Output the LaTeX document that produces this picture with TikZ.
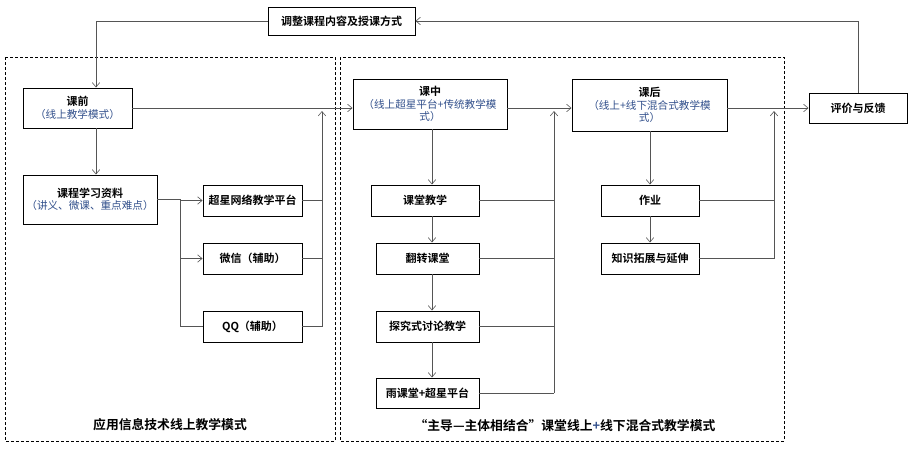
\documentclass[tikz,border=0pt]{standalone}
\usepackage{fontspec}
\setmainfont{Noto Sans CJK SC}[BoldFont={Noto Sans CJK SC Bold}]
\usetikzlibrary{arrows.meta,calc}
\definecolor{tblue}{RGB}{50,80,140}
\definecolor{lgray}{RGB}{85,85,85}
\tikzset{
  bx/.style={draw=black, line width=0.95pt, fill=white, inner sep=1pt, align=center,
    font=\fontsize{11}{12.5}\selectfont\bfseries},
  conn/.style={draw=lgray, line width=0.75pt},
  arr/.style={-{Straight Barb[length=4.5pt,width=7.5pt,line width=0.6pt]}},
  frame/.style={draw=black, line width=0.6pt, dash pattern=on 3pt off 2pt},
  ttl/.style={font=\fontsize{12.8}{14}\selectfont\bfseries, inner sep=1pt}
}
\newcommand{\subtxt}[1]{{\fontsize{10.6}{12.5}\selectfont\mdseries\color{tblue}#1}}
\begin{document}
\begin{tikzpicture}[x=1pt,y=-1pt]
\useasboundingbox (0,0) rectangle (911,451);

% frames
\draw[frame] (5,57) rectangle (335,441);
\draw[frame] (340,57) rectangle (784,441);

% nodes
\node[bx, minimum width=147pt, minimum height=28pt] (top) at (341.5,21) {调整课程内容及授课方式};
\node[bx, minimum width=109pt, minimum height=40pt] (qian) at (77.5,108) {课前\\\subtxt{（线上教学模式）}};
\node[bx, minimum width=154pt, minimum height=50pt] (zhong) at (430,104) {课中\\\subtxt{（线上超星平台+传统教学模}\\\subtxt{式）}};
\node[bx, minimum width=155pt, minimum height=52pt] (hou) at (649.5,105) {课后\\\subtxt{（线上+线下混合式教学模}\\\subtxt{式）}};
\node[bx, minimum width=98pt, minimum height=30pt] (ping) at (858,108) {评价与反馈};

\node[bx, minimum width=134pt, minimum height=49pt] (ziliao) at (90,199.5) {课程学习资料\\\subtxt{（讲义、微课、重点难点）}};
\node[bx, minimum width=99pt, minimum height=31pt] (chaoxing) at (252.5,200.5) {超星网络教学平台};
\node[bx, minimum width=99pt, minimum height=31pt] (weixin) at (252.5,258.5) {微信（辅助）};
\node[bx, minimum width=99pt, minimum height=31pt] (qq) at (252.5,326.5) {QQ（辅助）};

\node[bx, minimum width=108pt, minimum height=31pt] (ketang) at (425,200.5) {课堂教学};
\node[bx, minimum width=103pt, minimum height=31pt] (fanzhuan) at (427.5,258.5) {翻转课堂};
\node[bx, minimum width=103pt, minimum height=31pt] (tanjiu) at (427.5,326.5) {探究式讨论教学};
\node[bx, minimum width=103pt, minimum height=30pt] (yu) at (427.5,393) {雨课堂+超星平台};

\node[bx, minimum width=98pt, minimum height=31pt] (zuoye) at (650,200.5) {作业};
\node[bx, minimum width=98pt, minimum height=31pt] (zhishi) at (650,258.5) {知识拓展与延伸};

\node[ttl] (t1) at (170,425) {应用信息技术线上教学模式};
\node[ttl] (t2) at (565,426) {“主导—主体相结合”课堂线上{\color{tblue}+}线下混合式教学模式};

% helper coordinates
\coordinate (c96) at (96,0);
\coordinate (b1) at (180,0);
\coordinate (r1) at (322,0);
\coordinate (c432) at (432,0);
\coordinate (r2) at (554,0);
\coordinate (c650) at (650,0);
\coordinate (r3) at (774,0);

% feedback loop
\draw[conn,arr] (ping.north) |- (top.east);
\draw[conn,arr] (top.west) -| (qian.north -| c96);

% main flow
\draw[conn,arr] (qian.east) -- (qian.east -| zhong.west);
\draw[conn,arr] (zhong.east |- qian.east) -- (hou.west |- qian.east);
\draw[conn,arr] (hou.east |- ping.west) -- (ping.west);

% left column
\draw[conn,arr] (qian.south -| c96) -- (ziliao.north -| c96);
\draw[conn] (ziliao.east) -- (ziliao.east -| b1) |- (qq.west);
\draw[conn,arr] (chaoxing.west -| b1) -- (chaoxing.west);
\draw[conn,arr] (weixin.west -| b1) -- (weixin.west);
\draw[conn] (chaoxing.east) -- (chaoxing.east -| r1);
\draw[conn] (weixin.east) -- (weixin.east -| r1);
\draw[conn] (qq.east) -- (qq.east -| r1);
\draw[conn,arr] (qq.east -| r1) -- ($(qian.east -| r1)+(0,3)$);

% middle column
\draw[conn,arr] (zhong.south -| c432) -- (ketang.north -| c432);
\draw[conn,arr] (ketang.south -| c432) -- (fanzhuan.north -| c432);
\draw[conn,arr] (fanzhuan.south -| c432) -- (tanjiu.north -| c432);
\draw[conn,arr] (tanjiu.south -| c432) -- (yu.north -| c432);
\draw[conn] (ketang.east) -- (ketang.east -| r2);
\draw[conn] (fanzhuan.east) -- (fanzhuan.east -| r2);
\draw[conn] (tanjiu.east) -- (tanjiu.east -| r2);
\draw[conn] (yu.east) -- (yu.east -| r2);
\draw[conn,arr] (yu.east -| r2) -- ($(qian.east -| r2)+(0,3)$);

% right column
\draw[conn,arr] (hou.south -| c650) -- (zuoye.north -| c650);
\draw[conn,arr] (zuoye.south -| c650) -- (zhishi.north -| c650);
\draw[conn] (zuoye.east) -- (zuoye.east -| r3);
\draw[conn] (zhishi.east) -- (zhishi.east -| r3);
\draw[conn,arr] (zhishi.east -| r3) -- ($(qian.east -| r3)+(0,3)$);
\end{tikzpicture}
\end{document}
